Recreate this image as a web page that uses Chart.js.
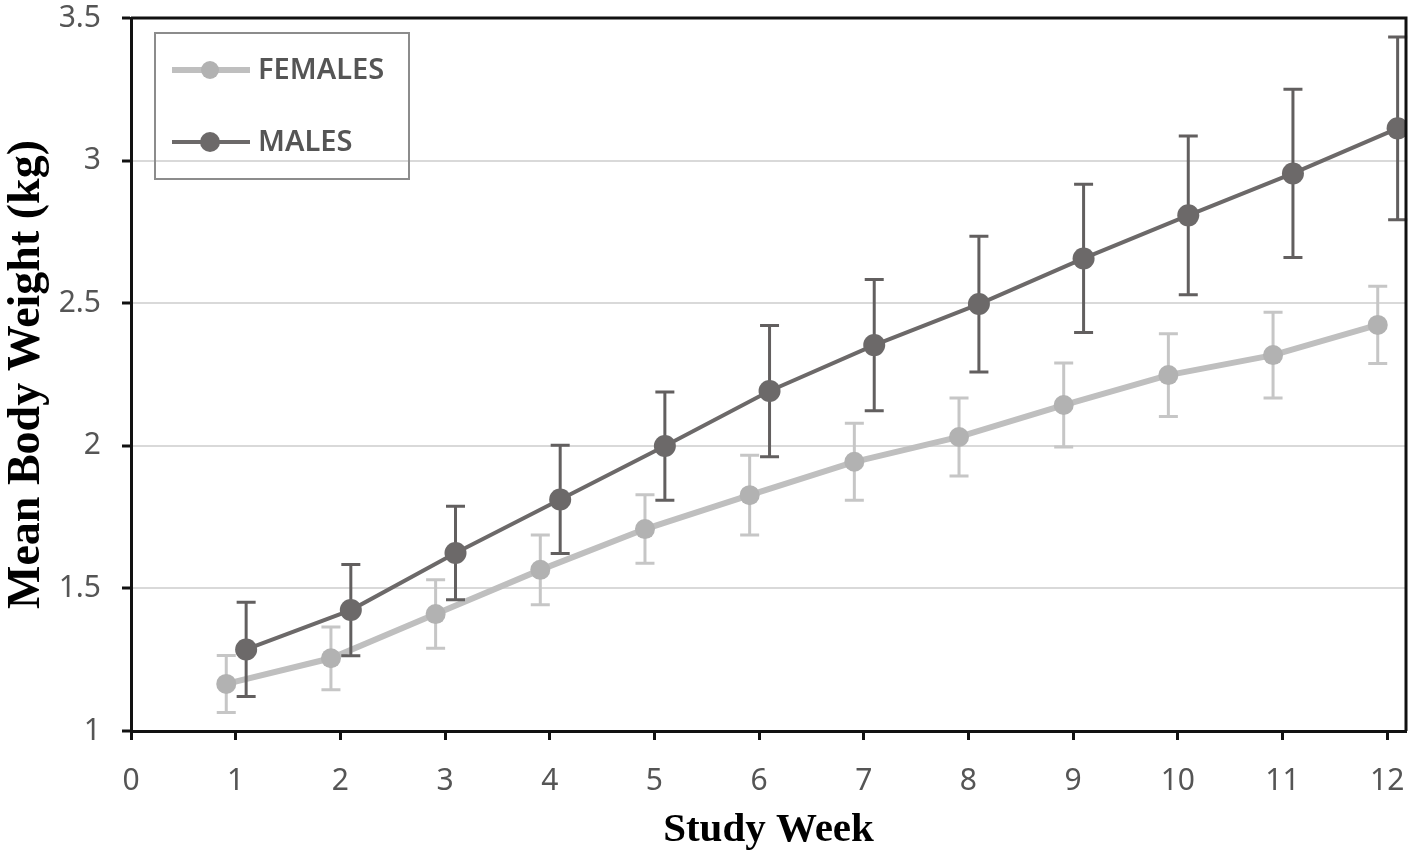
<!DOCTYPE html>
<html lang="en">
<head>
  <meta charset="UTF-8" />
  <title>Mean Body Weight by Study Week</title>
  <script src="https://cdn.jsdelivr.net/npm/chart.js"></script>
  <style>
    html, body { margin: 0; padding: 0; background: #fff; }
    #wrap { width: 1418px; height: 857px; }
  </style>
</head>
<body>
  <div id="wrap"><canvas id="weightChart" width="1418" height="857"></canvas></div>

  <script>
    // values
    const weeks = [1, 2, 3, 4, 5, 6, 7, 8, 9, 10, 11, 12];
    const femaleMeans = [1.165, 1.255, 1.41, 1.565, 1.708, 1.827, 1.944, 2.031, 2.143, 2.248, 2.318, 2.424];
    const femaleErr   = [0.10, 0.11, 0.12, 0.122, 0.12, 0.14, 0.135, 0.137, 0.147, 0.145, 0.15, 0.135];
    const maleMeans   = [1.286, 1.424, 1.624, 1.812, 1.999, 2.192, 2.353, 2.497, 2.657, 2.808, 2.955, 3.113];
    const maleErr     = [0.165, 0.16, 0.164, 0.19, 0.19, 0.23, 0.23, 0.238, 0.26, 0.278, 0.295, 0.32];

    const FEMALE_SHIFT = -0.09;
    const MALE_SHIFT = 0.1;
    const femaleColor = '#bfbfbf';
    const femaleMarker = '#b2b2b2';
    const maleColor = '#6c6969';

    function toPoints(means, shift) {
      return weeks.map((w, i) => ({ x: w + shift, y: means[i] }));
    }

    // error bars drawn right before each dataset's line
    const errorBars = {
      id: 'errorBars',
      beforeDatasetDraw(chart, args) {
        const ds = chart.data.datasets[args.index];
        const { ctx, scales: { x, y } } = chart;
        ctx.save();
        ctx.strokeStyle = ds.errColor;
        ctx.lineWidth = 3;
        ds.data.forEach((p, i) => {
          const px = x.getPixelForValue(p.x);
          const top = y.getPixelForValue(p.y + ds.err[i]);
          const bot = y.getPixelForValue(p.y - ds.err[i]);
          ctx.beginPath();
          ctx.moveTo(px, top); ctx.lineTo(px, bot);
          ctx.moveTo(px - 9.5, top); ctx.lineTo(px + 9.5, top);
          ctx.moveTo(px - 9.5, bot); ctx.lineTo(px + 9.5, bot);
          ctx.stroke();
        });
        ctx.restore();
      }
    };

    // top/right frame and the boxed legend inside the plot
    const frameAndLegend = {
      id: 'frameAndLegend',
      afterDraw(chart) {
        const { ctx, chartArea: a } = chart;
        ctx.save();
        ctx.strokeStyle = '#111';
        ctx.lineWidth = 3;
        ctx.beginPath();
        ctx.moveTo(a.left, a.top);
        ctx.lineTo(a.right, a.top);
        ctx.lineTo(a.right, a.bottom);
        ctx.stroke();

        const bx = a.left + 24, by = a.top + 15;
        ctx.strokeStyle = '#8c8c8c';
        ctx.lineWidth = 2;
        ctx.strokeRect(bx, by, 254, 146);

        const order = [1, 0];
        order.forEach((di, k) => {
          const ds = chart.data.datasets[di];
          const ly = by + 37 + k * 72;
          ctx.strokeStyle = ds.borderColor;
          ctx.lineWidth = ds.borderWidth;
          ctx.beginPath();
          ctx.moveTo(bx + 17, ly); ctx.lineTo(bx + 95, ly);
          ctx.stroke();
          ctx.fillStyle = ds.pointBackgroundColor;
          ctx.beginPath();
          ctx.arc(bx + 55, ly, ds.pointRadius - 1, 0, Math.PI * 2);
          ctx.fill();
          ctx.fillStyle = '#555';
          ctx.font = '600 29px "Noto Sans"';
          ctx.textBaseline = 'middle';
          ctx.fillText(ds.label, bx + 103, ly + 1);
        });
        ctx.restore();
      }
    };

    new Chart(document.getElementById('weightChart'), {
      type: 'line',
      data: {
        datasets: [
          {
            label: 'MALES',
            data: toPoints(maleMeans, MALE_SHIFT),
            err: maleErr,
            errColor: '#625f5f',
            borderColor: maleColor,
            borderWidth: 4,
            pointBackgroundColor: maleColor,
            pointBorderWidth: 0,
            pointRadius: 11
          },
          {
            label: 'FEMALES',
            data: toPoints(femaleMeans, FEMALE_SHIFT),
            err: femaleErr,
            errColor: '#c6c6c6',
            borderColor: femaleColor,
            borderWidth: 6,
            pointBackgroundColor: femaleMarker,
            pointBorderWidth: 0,
            pointRadius: 10
          }
        ]
      },
      options: {
        responsive: false,
        animation: false,
        layout: { padding: { top: 18, right: 12, left: 0, bottom: 0 } },
        plugins: { legend: { display: false }, tooltip: { enabled: false } },
        scales: {
          x: {
            type: 'linear',
            min: 0,
            max: 12.18,
            afterFit(s) { s.height = 126; s.paddingLeft = 0; s.paddingRight = 0; },
            border: { color: '#111', width: 3 },
            grid: { drawOnChartArea: false, tickColor: '#111', tickWidth: 3, tickLength: 9 },
            ticks: { stepSize: 1, includeBounds: false, color: '#555', padding: 23, font: { family: 'Noto Sans', size: 30 } },
            title: { display: true, text: 'Study Week', color: '#000', padding: { top: 0, bottom: 2 }, font: { family: 'Liberation Serif', size: 41, weight: 'bold' } }
          },
          y: {
            min: 1,
            max: 3.5,
            afterFit(s) { s.width = 131; s.paddingTop = 0; s.paddingBottom = 0; },
            border: { color: '#111', width: 3 },
            grid: {
              color: c => (c.tick && c.tick.value > 1 && c.tick.value < 3.5) ? '#d9d9d9' : 'rgba(0,0,0,0)',
              lineWidth: 2,
              tickColor: '#111',
              tickWidth: 3,
              tickLength: 9
            },
            ticks: { stepSize: 0.5, color: '#555', padding: 21, font: { family: 'Noto Sans', size: 30 }, callback: v => String(v) },
            title: { display: true, text: 'Mean Body Weight (kg)', color: '#000', padding: { top: 0, bottom: 0 }, font: { family: 'Liberation Serif', size: 46, weight: 'bold' } }
          }
        }
      },
      plugins: [errorBars, frameAndLegend]
    });
  </script>
</body>
</html>
